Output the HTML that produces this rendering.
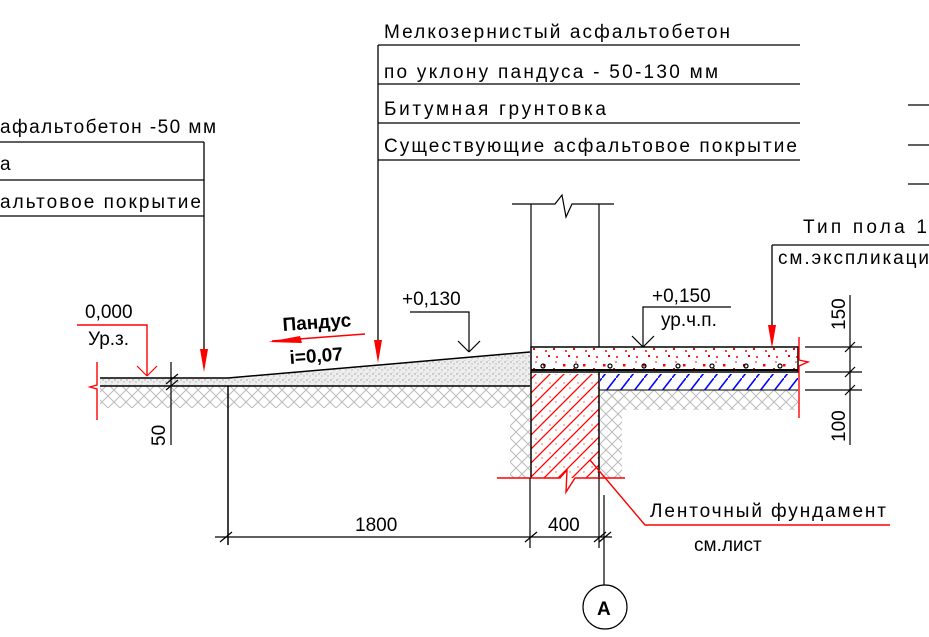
<!DOCTYPE html>
<html><head><meta charset="utf-8"><style>body{margin:0;background:#fff}svg{display:block}text{font-family:"Liberation Sans","DejaVu Sans",sans-serif;font-size:19px;fill:#000}</style></head><body>
<svg width="929" height="637" viewBox="0 0 929 637" xmlns="http://www.w3.org/2000/svg">
<defs>
<pattern id="earth" width="12" height="12" patternUnits="userSpaceOnUse"><path d="M0 12L6 6L12 12M0 0L6 6M6 6L12 0" stroke="#bbb" stroke-width="1" fill="none"/></pattern>
<pattern id="sand" width="6" height="6" patternUnits="userSpaceOnUse"><rect width="6" height="6" fill="#eee"/><circle cx="1" cy="2" r=".7" fill="#999"/><circle cx="4" cy="4" r=".7" fill="#aaa"/><circle cx="3" cy="0.5" r=".5" fill="#bbb"/></pattern>
<pattern id="redh" width="14" height="14" patternUnits="userSpaceOnUse"><path d="M0 14L14 0M-3 3L3 -3M11 17L17 11" stroke="#f00" stroke-width="1.3"/><circle cx="4" cy="5" r=".6" fill="#f00"/><circle cx="10" cy="10" r=".6" fill="#f00"/></pattern>
<pattern id="blueh" width="14" height="18" patternUnits="userSpaceOnUse"><path d="M0 18L14 0" stroke="#00f" stroke-width="1.6"/></pattern>
<pattern id="conc" width="20" height="20" patternUnits="userSpaceOnUse"><rect width="20" height="20" fill="#fff"/><rect x="3" y="4" width="2.5" height="2.5" fill="#f00"/><rect x="13" y="8" width="2" height="2" fill="#f00"/><rect x="8" y="15" width="2" height="2" fill="#f00"/><circle cx="17" cy="17" r="1" fill="#f00"/><circle cx="6" cy="11" r="1" fill="#f00"/><circle cx="16" cy="2" r=".8" fill="#f00"/></pattern>
</defs>
<g stroke="#000" stroke-width="1.3" fill="none">
<line x1="378" y1="45" x2="800" y2="45"/><line x1="378" y1="84" x2="800" y2="84"/><line x1="378" y1="123" x2="800" y2="123"/><line x1="378" y1="160" x2="800" y2="160"/>
<line x1="378" y1="45" x2="378" y2="350"/>
<line x1="908" y1="105" x2="929" y2="105"/><line x1="908" y1="145" x2="929" y2="145"/><line x1="908" y1="184" x2="929" y2="184"/>
<line x1="0" y1="142" x2="204" y2="142"/><line x1="0" y1="180" x2="204" y2="180"/><line x1="0" y1="216" x2="204" y2="216"/>
<line x1="204" y1="142" x2="204" y2="360"/>
<line x1="772" y1="245" x2="929" y2="245"/><line x1="772" y1="245" x2="772" y2="333"/>
</g>
<rect x="100" y="386" width="430" height="22" fill="url(#earth)"/>
<rect x="510" y="386" width="20" height="92" fill="url(#earth)"/>
<rect x="600" y="390" width="198" height="20" fill="url(#earth)"/>
<rect x="600" y="390" width="22" height="88" fill="url(#earth)"/>
<polygon points="100,378 228,378 530,352 530,386 100,386" fill="url(#sand)"/>
<rect x="531" y="347" width="267" height="23" fill="url(#conc)"/>
<rect x="600" y="374" width="198" height="16" fill="url(#blueh)"/>
<rect x="531" y="374" width="68" height="104" fill="url(#redh)"/>
<g stroke="#000" stroke-width="1.5" fill="none">
<polyline points="100,378 228,378 530,352"/>
<line x1="100" y1="386" x2="530" y2="386"/>
<line x1="228" y1="386" x2="228" y2="545"/>
<rect x="531" y="347" width="267" height="25"/>
<line x1="531" y1="370" x2="798" y2="370" stroke-width="2"/>
<line x1="531" y1="372" x2="531" y2="478"/><line x1="599" y1="372" x2="599" y2="478"/>
<line x1="599" y1="390" x2="798" y2="390" stroke-width="1"/>
<line x1="531" y1="204" x2="531" y2="347" stroke-width="1.2"/><line x1="599" y1="204" x2="599" y2="347" stroke-width="1.2"/>
<polyline points="512,204 555,204 562,195 566,217 572,204 614,204" stroke-width="1.2"/>
</g>
<g fill="none" stroke="#000" stroke-width="1.2">
<circle cx="543" cy="366" r="2"/><circle cx="576" cy="366" r="2"/><circle cx="610" cy="366" r="2"/><circle cx="644" cy="366" r="2"/><circle cx="678" cy="366" r="2"/><circle cx="712" cy="366" r="2"/><circle cx="746" cy="366" r="2"/><circle cx="780" cy="366" r="2"/>
</g>
<g stroke="#f00" stroke-width="1.4" fill="none">
<polyline points="97,362 97,385 90,387 97,389 97,420"/>
<polyline points="799,337 799,360 808,362 799,366 799,418"/>
<polyline points="497,478 560,478 567,470 566,492 575,478 625,478"/>
<polyline points="77,325 147,325 147,376"/>
<polyline points="590,460 645,525 890,525"/>
<line x1="272" y1="341" x2="365" y2="334"/>
</g>
<polygon points="268,342 300,336 302,343" fill="#f00"/>
<g fill="#f00"><polygon points="200,349 208,349 204,372"/><polygon points="374,340 382,340 378,363"/><polygon points="768,325 776,325 772,348"/></g>
<g stroke="#f00" stroke-width="1.2"><line x1="137" y1="366" x2="147" y2="376"/><line x1="157" y1="366" x2="147" y2="376"/></g>
<g stroke="#000" stroke-width="1.2" fill="none">
<polyline points="410,312 469,312 469,352"/><line x1="458" y1="341" x2="469" y2="352"/><line x1="480" y1="341" x2="469" y2="352"/>
<polyline points="731,307 643,307 643,347"/><line x1="632" y1="336" x2="643" y2="347"/><line x1="654" y1="336" x2="643" y2="347"/>
<line x1="215" y1="537" x2="612" y2="537"/>
<line x1="530" y1="478" x2="530" y2="548"/><line x1="599" y1="478" x2="599" y2="548"/><line x1="604" y1="495" x2="604" y2="585"/>
<line x1="220" y1="542" x2="232" y2="532"/><line x1="525" y1="542" x2="537" y2="532"/><line x1="594" y1="542" x2="606" y2="532"/><line x1="599" y1="542" x2="611" y2="532"/>
<circle cx="605" cy="607" r="22"/>
<line x1="171" y1="362" x2="171" y2="445"/><line x1="166" y1="384" x2="178" y2="374"/><line x1="166" y1="390" x2="178" y2="380"/>
<line x1="805" y1="347" x2="862" y2="347"/><line x1="805" y1="372" x2="862" y2="372"/><line x1="805" y1="390" x2="862" y2="390"/>
<line x1="850" y1="295" x2="850" y2="445"/>
<line x1="845" y1="352" x2="855" y2="342"/><line x1="845" y1="377" x2="855" y2="367"/><line x1="845" y1="395" x2="855" y2="385"/>
</g>
<text x="384" y="38" textLength="346">Мелкозернистый асфальтобетон</text>
<text x="384" y="78" textLength="334">по уклону пандуса - 50-130 мм</text>
<text x="384" y="115" textLength="222">Битумная грунтовка</text>
<text x="384" y="152" textLength="413">Существующие асфальтовое покрытие</text>
<text x="0" y="133" textLength="216">афальтобетон -50 мм</text>
<text x="0" y="170">а</text>
<text x="0" y="208" textLength="201">альтовое покрытие</text>
<text x="803" y="233" textLength="124">Тип пола 1</text>
<text x="778" y="264" textLength="151">см.экспликаци</text>
<text x="652" y="302">+0,150</text>
<text x="661" y="326">ур.ч.п.</text>
<text x="402" y="305">+0,130</text>
<text x="85" y="318">0,000</text>
<text x="88" y="345">Ур.з.</text>
<text x="283" y="331" font-weight="bold" font-size="21" transform="rotate(-4 283 331)">Пандус</text>
<text x="290" y="364" font-weight="bold" font-size="21" transform="rotate(-4 290 364)">i=0,07</text>
<text x="355" y="531">1800</text>
<text x="548" y="531">400</text>
<text x="650" y="517" textLength="236">Ленточный фундамент</text>
<text x="694" y="551">см.лист</text>
<text x="597" y="615" font-weight="bold" font-size="20">A</text>
<text x="0" y="0" transform="translate(845 330) rotate(-90)">150</text>
<text x="0" y="0" transform="translate(845 442) rotate(-90)">100</text>
<text x="0" y="0" transform="translate(165 446) rotate(-90)">50</text>
</svg>
</body></html>
